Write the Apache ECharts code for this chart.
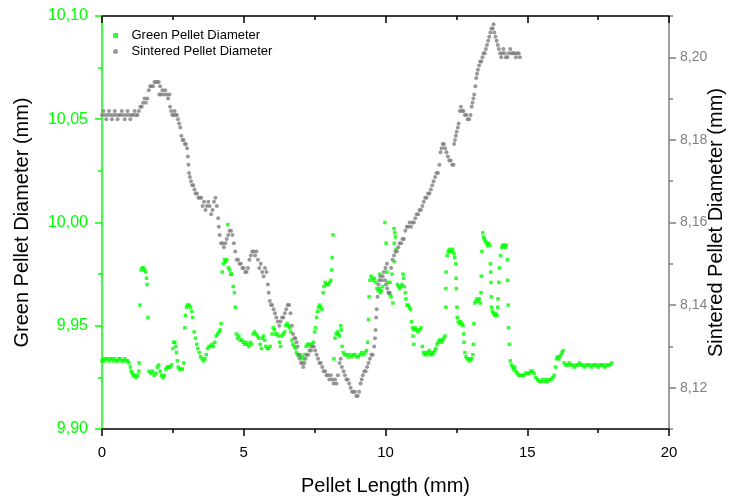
<!DOCTYPE html>
<html>
<head>
<meta charset="utf-8">
<script src="https://cdn.jsdelivr.net/npm/echarts@6/dist/echarts.min.js"></script>
<style>
html,body{margin:0;padding:0;background:#fff;}
#chart{width:742px;height:502px;}
</style>
</head>
<body>
<div id="chart"></div>
<script>
// ---- data ----
var greenName = 'Green Pellet Diameter';
var sintName = 'Sintered Pellet Diameter';
var xTitle = 'Pellet Length (mm)';
var leftTitle = 'Green Pellet Diameter (mm)';
var rightTitle = 'Sintered Pellet Diameter (mm)';
var xTicks = [0, 5, 10, 15, 20];
var leftTicks = [9.90, 9.95, 10.00, 10.05, 10.10];
var rightTicks = [8.12, 8.14, 8.16, 8.18, 8.20];

var greenData = [
[0.00,9.933],[0.05,9.934],[0.10,9.933],[0.15,9.934],[0.20,9.934],[0.25,9.933],[0.30,9.934],[0.35,9.934],[0.40,9.933],[0.45,9.934],
[0.50,9.933],[0.55,9.933],[0.60,9.934],[0.65,9.934],[0.70,9.933],[0.75,9.933],[0.80,9.934],[0.85,9.933],[0.90,9.933],[0.95,9.932],
[1.00,9.930],[1.03,9.928],[1.07,9.927],[1.10,9.926],[1.15,9.926],[1.20,9.925],[1.25,9.926],[1.30,9.928],[1.31,9.932],
[1.34,9.960],[1.38,9.977],[1.42,9.978],[1.46,9.978],[1.50,9.977],[1.54,9.976],[1.57,9.973],[1.59,9.970],[1.62,9.954],
[1.66,9.928],[1.72,9.927],[1.78,9.928],[1.84,9.926],[1.90,9.927],[1.95,9.930],[2.00,9.931],[2.05,9.928],[2.10,9.926],[2.15,9.925],
[2.20,9.926],[2.25,9.929],[2.30,9.930],[2.35,9.930],[2.40,9.930],[2.45,9.931],
[2.50,9.939],[2.53,9.942],[2.57,9.942],[2.60,9.940],[2.63,9.937],[2.66,9.933],[2.69,9.930],[2.73,9.929],[2.78,9.929],[2.83,9.929],[2.88,9.932],
[2.92,9.949],[2.94,9.955],[2.98,9.959],[3.02,9.960],[3.07,9.960],[3.12,9.959],[3.17,9.957],[3.20,9.954],[3.25,9.947],[3.30,9.944],
[3.34,9.941],[3.38,9.939],[3.43,9.937],[3.48,9.935],[3.53,9.934],[3.58,9.933],[3.63,9.934],[3.68,9.936],[3.73,9.939],[3.78,9.940],
[3.83,9.940],[3.88,9.941],[3.93,9.940],[3.98,9.942],[4.03,9.945],[4.08,9.946],[4.13,9.947],[4.17,9.948],[4.20,9.951],
[4.24,9.976],[4.28,9.980],[4.32,9.982],[4.36,9.981],[4.40,9.982],[4.44,9.999],[4.46,9.978],[4.50,9.977],[4.54,9.975],[4.58,9.975],
[4.63,9.969],[4.67,9.966],[4.70,9.959],[4.74,9.946],[4.78,9.944],[4.83,9.945],[4.88,9.943],[4.93,9.943],[4.98,9.942],[5.03,9.941],
[5.08,9.942],[5.13,9.941],[5.18,9.940],[5.23,9.942],[5.28,9.941],[5.33,9.946],[5.38,9.947],[5.43,9.946],[5.48,9.945],[5.53,9.944],
[5.58,9.941],[5.62,9.939],[5.66,9.944],[5.70,9.945],[5.74,9.943],[5.78,9.940],[5.83,9.939],[5.88,9.939],[5.93,9.940],[6.00,9.946],
[6.04,9.949],[6.08,9.948],[6.12,9.946],[6.17,9.946],[6.22,9.945],[6.27,9.942],[6.30,9.940],[6.34,9.945],[6.39,9.946],[6.44,9.947],
[6.49,9.950],[6.53,9.951],[6.58,9.950],[6.62,9.949],[6.66,9.947],[6.70,9.943],[6.74,9.941],[6.78,9.940],[6.82,9.939],[6.86,9.937],
[6.90,9.936],[6.95,9.935],[7.00,9.936],[7.05,9.935],[7.10,9.934],[7.15,9.936],[7.20,9.940],[7.25,9.941],[7.30,9.941],[7.35,9.940],
[7.40,9.941],[7.45,9.942],[7.50,9.947],[7.53,9.949],[7.57,9.954],[7.60,9.957],[7.64,9.959],[7.68,9.960],[7.72,9.959],[7.76,9.958],
[7.80,9.966],[7.83,9.969],[7.87,9.971],[7.91,9.970],[7.95,9.970],[7.99,9.970],[8.03,9.971],[8.07,9.972],[8.10,9.977],[8.12,9.983],
[8.15,9.994],[8.18,9.934],[8.22,9.944],[8.26,9.946],[8.30,9.947],[8.34,9.946],[8.38,9.945],[8.42,9.950],[8.44,9.948],[8.47,9.940],
[8.51,9.937],[8.56,9.936],[8.62,9.936],[8.68,9.935],[8.74,9.936],[8.80,9.935],[8.86,9.936],[8.92,9.936],[8.98,9.935],[9.04,9.935],
[9.10,9.936],[9.16,9.937],[9.22,9.936],[9.28,9.937],[9.33,9.938],[9.37,9.942],[9.40,9.953],[9.42,9.964],[9.45,9.972],[9.49,9.974],
[9.53,9.973],[9.57,9.972],[9.61,9.973],[9.65,9.971],[9.70,9.968],[9.74,9.967],[9.78,9.968],[9.80,9.975],[9.82,9.966],[9.86,9.967],
[9.90,9.969],[9.98,10.000],[10.02,9.990],[10.05,9.976],[10.08,9.971],[10.12,9.966],[10.16,9.965],[10.20,9.964],[10.16,9.971],[10.23,9.975],
[10.26,9.961],[10.30,9.997],[10.33,9.995],[10.35,9.993],[10.31,9.990],[10.37,9.987],[10.31,9.981],
[10.42,9.970],[10.46,9.969],[10.50,9.968],[10.54,9.969],[10.58,9.970],[10.62,9.975],[10.64,9.973],[10.66,9.969],[10.70,9.966],[10.72,9.963],
[10.76,9.960],[10.80,9.960],[10.84,9.959],[10.88,9.958],[10.92,9.952],[10.95,9.949],[10.97,9.945],[11.00,9.941],[11.00,9.948],[11.05,9.949],
[11.10,9.948],[11.15,9.947],[11.20,9.948],[11.25,9.949],[11.30,9.940],[11.34,9.937],[11.38,9.936],[11.42,9.937],[11.46,9.936],[11.50,9.937],
[11.54,9.938],[11.58,9.936],[11.62,9.937],[11.66,9.936],[11.70,9.937],[11.74,9.938],[11.78,9.939],[11.82,9.941],[11.86,9.942],[11.90,9.943],
[11.94,9.943],[11.98,9.942],[12.02,9.943],[12.06,9.944],[12.10,9.945],
[12.13,9.959],[12.13,9.968],[12.14,9.976],[12.18,9.984],[12.21,9.986],[12.25,9.987],[12.29,9.986],[12.33,9.986],[12.37,9.987],[12.41,9.985],
[12.44,9.983],[12.48,9.980],[12.49,9.973],[12.50,9.968],[12.52,9.959],[12.53,9.954],[12.57,9.952],[12.61,9.951],[12.65,9.952],[12.69,9.951],
[12.73,9.950],[12.76,9.946],[12.77,9.942],[12.80,9.937],[12.84,9.935],[12.88,9.934],[12.92,9.934],[12.96,9.933],[13.00,9.934],[13.04,9.934],
[13.08,9.936],[13.10,9.941],[13.12,9.951],[13.15,9.961],[13.19,9.962],[13.23,9.963],[13.27,9.962],[13.31,9.963],[13.35,9.961],[13.37,9.966],
[13.38,9.974],[13.40,9.986],[13.43,9.995],[13.46,9.993],[13.49,9.992],[13.52,9.991],[13.56,9.990],[13.60,9.989],[13.64,9.990],[13.68,9.989],
[13.70,9.980],[13.71,9.976],[13.72,9.971],[13.73,9.964],[13.74,9.959],[13.77,9.957],[13.81,9.956],[13.85,9.955],[13.89,9.956],[13.93,9.955],
[13.96,9.959],[13.97,9.963],[14.00,9.971],[14.02,9.978],[14.06,9.984],[14.10,9.988],[14.14,9.989],[14.18,9.989],[14.22,9.988],[14.26,9.989],
[14.30,9.982],[14.31,9.972],[14.33,9.960],[14.34,9.949],[14.37,9.941],[14.40,9.933],[14.44,9.931],[14.48,9.930],[14.52,9.929],[14.56,9.930],
[14.60,9.928],[14.65,9.927],[14.70,9.926],[14.76,9.926],[14.82,9.926],[14.88,9.926],[14.94,9.927],[15.00,9.927],[15.06,9.927],[15.12,9.928],
[15.18,9.928],[15.24,9.927],[15.30,9.925],[15.36,9.924],[15.42,9.923],[15.48,9.923],[15.54,9.924],[15.60,9.923],[15.66,9.924],[15.72,9.923],
[15.78,9.924],[15.84,9.924],[15.90,9.925],[15.95,9.926],[16.00,9.930],[16.03,9.934],[16.07,9.935],[16.11,9.934],[16.15,9.935],[16.19,9.936],
[16.23,9.937],[16.26,9.938],[16.30,9.932],[16.36,9.931],[16.42,9.931],[16.48,9.932],[16.54,9.931],[16.60,9.931],[16.66,9.930],[16.72,9.931],
[16.78,9.931],[16.84,9.932],[16.90,9.931],[16.96,9.931],[17.02,9.930],[17.08,9.931],[17.14,9.931],[17.20,9.931],[17.26,9.930],[17.32,9.931],
[17.38,9.931],[17.44,9.931],[17.50,9.930],[17.56,9.931],[17.62,9.931],[17.68,9.931],[17.74,9.930],[17.80,9.931],[17.86,9.931],[17.92,9.931],
[17.98,9.932]
];

var sintData = [
[0.00,8.186],[0.05,8.187],[0.10,8.186],[0.15,8.185],[0.20,8.186],[0.25,8.187],[0.30,8.186],[0.35,8.185],[0.40,8.186],[0.45,8.187],
[0.50,8.186],[0.55,8.185],[0.60,8.186],[0.65,8.186],[0.70,8.187],[0.75,8.186],[0.80,8.185],[0.85,8.186],[0.90,8.187],[0.95,8.186],
[1.00,8.185],[1.05,8.186],[1.10,8.186],[1.15,8.187],[1.20,8.186],[1.25,8.186],[1.30,8.187],
[1.35,8.188],[1.40,8.188],[1.45,8.189],[1.50,8.190],[1.55,8.189],
[1.60,8.190],[1.65,8.192],[1.70,8.193],[1.75,8.193],[1.80,8.193],[1.85,8.194],[1.90,8.194],[1.95,8.194],[2.00,8.194],[2.05,8.193],
[2.02,8.191],[2.08,8.191],[2.13,8.192],[2.18,8.191],[2.23,8.192],[2.28,8.191],[2.33,8.190],[2.38,8.191],
[2.40,8.188],[2.44,8.187],[2.48,8.186],[2.52,8.186],[2.56,8.187],[2.60,8.186],[2.64,8.186],[2.68,8.185],[2.72,8.184],
[2.76,8.183],[2.80,8.181],[2.84,8.180],[2.88,8.180],[2.92,8.179],[2.96,8.179],[3.00,8.178],
[3.03,8.176],[3.05,8.174],[3.07,8.172],
[3.10,8.171],[3.14,8.170],[3.18,8.169],[3.22,8.169],[3.26,8.168],[3.30,8.167],[3.35,8.167],[3.40,8.166],[3.45,8.166],[3.50,8.166],
[3.55,8.164],[3.60,8.165],[3.65,8.163],[3.70,8.164],[3.75,8.165],[3.80,8.164],[3.85,8.162],[3.90,8.163],[3.95,8.165],[4.00,8.166],[4.05,8.164],
[4.10,8.161],[4.12,8.159],[4.15,8.157],[4.20,8.155],[4.25,8.155],[4.30,8.154],[4.35,8.155],[4.40,8.156],[4.45,8.157],[4.50,8.158],
[4.55,8.158],[4.60,8.157],[4.65,8.155],
[4.70,8.153],[4.75,8.151],[4.80,8.151],[4.85,8.150],[4.90,8.150],[4.95,8.149],[5.00,8.149],[5.05,8.148],[5.10,8.148],[5.15,8.149],
[5.20,8.151],[5.25,8.152],[5.30,8.153],[5.35,8.153],[5.40,8.152],[5.45,8.153],[5.50,8.151],
[5.55,8.149],[5.60,8.150],[5.65,8.148],[5.70,8.147],[5.75,8.149],[5.80,8.148],
[5.85,8.145],[5.88,8.143],[5.92,8.141],[5.96,8.140],[6.00,8.140],[6.05,8.139],
[6.10,8.138],[6.15,8.137],[6.20,8.136],[6.25,8.135],[6.30,8.136],[6.35,8.137],[6.40,8.137],[6.45,8.138],[6.50,8.139],[6.55,8.140],
[6.60,8.140],[6.65,8.138],
[6.70,8.135],[6.74,8.133],[6.78,8.132],[6.82,8.132],[6.86,8.131],[6.90,8.130],
[6.94,8.128],[6.98,8.127],[7.02,8.126],[7.06,8.126],[7.10,8.125],[7.14,8.126],[7.18,8.127],
[7.22,8.128],[7.27,8.128],[7.32,8.129],[7.37,8.129],[7.42,8.130],[7.47,8.130],[7.52,8.129],[7.57,8.128],
[7.62,8.127],[7.67,8.126],[7.72,8.126],
[7.77,8.125],[7.82,8.124],[7.87,8.124],[7.92,8.123],[7.97,8.123],[8.02,8.122],[8.07,8.123],
[8.12,8.122],[8.17,8.121],[8.22,8.122],[8.27,8.121],[8.32,8.123],
[8.38,8.126],[8.42,8.127],[8.46,8.125],
[8.52,8.124],[8.57,8.123],[8.62,8.122],[8.67,8.122],[8.72,8.121],
[8.77,8.120],[8.82,8.119],[8.87,8.119],[8.92,8.119],[8.97,8.118],[9.02,8.118],[9.07,8.119],
[9.12,8.121],[9.16,8.122],[9.20,8.123],[9.25,8.124],[9.30,8.124],[9.35,8.125],
[9.40,8.126],[9.45,8.127],[9.50,8.128],[9.55,8.128],
[9.60,8.130],[9.63,8.132],[9.65,8.134],[9.67,8.137],[9.69,8.139],
[9.72,8.142],[9.75,8.145],[9.78,8.146],[9.82,8.147],[9.86,8.146],[9.90,8.147],[9.94,8.148],
[9.98,8.146],[10.02,8.145],[10.06,8.144],[10.10,8.143],[10.15,8.143],
[10.00,8.149],[10.05,8.150],
[10.20,8.149],[10.25,8.151],[10.30,8.152],[10.35,8.153],[10.40,8.153],[10.45,8.154],[10.50,8.155],[10.55,8.155],[10.60,8.156],[10.65,8.156],
[10.70,8.158],[10.75,8.159],[10.80,8.159],[10.85,8.160],[10.90,8.159],[10.95,8.160],[11.00,8.160],
[11.05,8.161],[11.10,8.162],[11.15,8.162],[11.20,8.163],[11.25,8.163],
[11.30,8.164],[11.35,8.165],[11.40,8.166],[11.45,8.166],[11.50,8.167],[11.55,8.167],[11.60,8.168],
[11.65,8.169],[11.70,8.170],[11.75,8.171],[11.80,8.172],[11.85,8.172],[11.90,8.174],
[11.94,8.177],[11.98,8.178],[12.02,8.179],[12.06,8.179],[12.10,8.178],
[12.15,8.177],[12.20,8.176],[12.25,8.175],[12.30,8.175],[12.35,8.174],[12.40,8.174],
[12.42,8.179],[12.45,8.180],[12.48,8.181],[12.51,8.182],[12.55,8.183],[12.58,8.184],
[12.62,8.187],[12.66,8.188],[12.70,8.187],[12.75,8.187],[12.80,8.186],[12.85,8.186],[12.90,8.185],[12.95,8.185],[13.00,8.186],
[13.04,8.188],[13.07,8.189],[13.10,8.190],[13.13,8.191],
[13.17,8.193],[13.20,8.195],[13.23,8.196],
[13.26,8.197],[13.30,8.198],[13.34,8.199],[13.38,8.199],[13.42,8.200],[13.46,8.201],[13.50,8.201],[13.54,8.202],
[13.58,8.203],[13.62,8.204],[13.66,8.205],[13.70,8.206],[13.74,8.207],[13.78,8.207],[13.81,8.208],[13.84,8.206],
[13.88,8.205],[13.92,8.204],[13.96,8.203],[14.00,8.202],[14.04,8.201],
[14.08,8.200],[14.12,8.201],[14.16,8.202],[14.20,8.201],[14.25,8.200],[14.30,8.200],[14.35,8.201],[14.40,8.202],[14.45,8.201],[14.50,8.201],
[14.55,8.201],[14.60,8.200],[14.65,8.201],[14.70,8.201],[14.74,8.200]
];

// ---- chart ----
var GREEN = '#00ff00';
var GRAY = '#808080';
var FONT = 'Liberation Sans, Arial, sans-serif';
function comma(v, d) { return Number(v).toFixed(d).replace('.', ','); }

var chart = echarts.init(document.getElementById('chart'), null, {renderer: 'canvas'});
chart.setOption({
  animation: false,
  backgroundColor: '#ffffff',
  textStyle: {fontFamily: FONT},
  grid: {left: 102, right: 73, top: 16, bottom: 73, containLabel: false},
  legend: {
    orient: 'vertical', left: 108, top: 24, itemGap: 3,
    itemWidth: 22, itemHeight: 5,
    textStyle: {fontFamily: FONT, fontSize: 13, color: '#000'},
    data: [
      {name: greenName, icon: 'path://M0 0L10 0L10 10L0 10Z', itemStyle: {color: GREEN}},
      {name: sintName, icon: 'circle', itemStyle: {color: GRAY}}
    ]
  },
  xAxis: [{
    type: 'value', position: 'bottom', min: xTicks[0], max: xTicks[xTicks.length - 1], interval: 5,
    name: xTitle, nameLocation: 'middle', nameGap: 47, nameMoveOverlap: false,
    nameTextStyle: {fontFamily: FONT, fontSize: 20, color: '#000'},
    axisLine: {show: true, onZero: false, lineStyle: {color: '#000', width: 1.5}},
    axisTick: {show: true, inside: false, length: 7, lineStyle: {color: '#000', width: 1.5}},
    minorTick: {show: true, splitNumber: 2, length: 4, lineStyle: {color: '#000', width: 1.5}},
    axisLabel: {show: true, margin: 16, fontFamily: FONT, fontSize: 15, color: '#000',
      formatter: function (v) { return String(v); }},
    splitLine: {show: false}
  }, {
    type: 'value', position: 'top', min: xTicks[0], max: xTicks[xTicks.length - 1], interval: 5,
    axisLine: {show: true, onZero: false, lineStyle: {color: '#000', width: 1.5}},
    axisTick: {show: true, inside: true, length: 7, lineStyle: {color: '#000', width: 1.5}},
    minorTick: {show: true, splitNumber: 2, length: 4, lineStyle: {color: '#000', width: 1.5}},
    axisLabel: {show: false},
    splitLine: {show: false}
  }],
  yAxis: [{
    type: 'value', position: 'left', min: leftTicks[0], max: leftTicks[leftTicks.length - 1], interval: 0.05,
    name: leftTitle, nameLocation: 'middle', nameGap: 70, nameRotate: 90, nameMoveOverlap: false,
    nameTextStyle: {fontFamily: FONT, fontSize: 20, color: '#000'},
    axisLine: {show: true, onZero: false, lineStyle: {color: GREEN, width: 1.5}},
    axisTick: {show: true, inside: false, length: 7, lineStyle: {color: GREEN, width: 1.5}},
    minorTick: {show: true, splitNumber: 2, length: 4, lineStyle: {color: GREEN, width: 1.5}},
    axisLabel: {show: true, margin: 14, fontFamily: FONT, fontSize: 16, color: GREEN,
      formatter: function (v) { return comma(v, 2); }},
    splitLine: {show: false}
  }, {
    type: 'value', position: 'right', min: 8.11, max: 8.21, interval: 0.01,
    name: rightTitle, nameLocation: 'middle', nameGap: 37, nameRotate: 90, nameMoveOverlap: false,
    nameTextStyle: {fontFamily: FONT, fontSize: 20, color: '#000'},
    axisLine: {show: true, onZero: false, lineStyle: {color: GRAY, width: 1.5}},
    axisTick: {show: true, inside: false, length: 4, lineStyle: {color: GRAY, width: 1.5}},
    axisLabel: {show: true, margin: 11, fontFamily: FONT, fontSize: 14, color: GRAY,
      customValues: rightTicks,
      formatter: function (v) { return comma(v, 2); }},
    splitLine: {show: false}
  }, {
    type: 'value', position: 'right', min: 8.11, max: 8.21, interval: 0.01,
    axisLine: {show: false, onZero: false},
    axisTick: {show: true, inside: false, length: 7, customValues: rightTicks, lineStyle: {color: GRAY, width: 1.5}},
    axisLabel: {show: false},
    splitLine: {show: false}
  }],
  series: [{
    name: greenName, type: 'scatter', xAxisIndex: 0, yAxisIndex: 0,
    symbol: 'rect', symbolSize: 3.5,
    itemStyle: {color: GREEN},
    data: greenData
  }, {
    name: sintName, type: 'scatter', xAxisIndex: 0, yAxisIndex: 1,
    symbol: 'circle', symbolSize: 4,
    itemStyle: {color: GRAY},
    data: sintData
  }]
});
</script>
</body>
</html>
